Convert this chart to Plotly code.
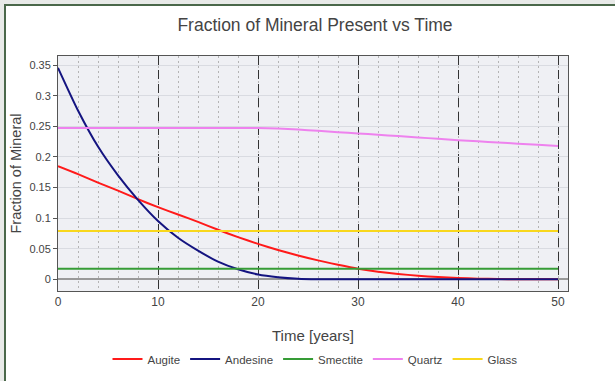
import plotly.graph_objects as go

# ---- data ----
years = [0, 2, 4, 6, 8, 10, 12, 14, 16, 18, 20, 22, 24, 26, 28, 30,
         32, 34, 36, 38, 40, 42, 44, 46, 48, 50]

augite = [0.185, 0.172, 0.158, 0.145, 0.131, 0.118, 0.106, 0.094, 0.081,
          0.069, 0.058, 0.048, 0.039, 0.031, 0.024, 0.0175, 0.0125, 0.0088,
          0.006, 0.0038, 0.0022, 0.0012, 0.0006, 0.0002, 0.0001, 0.0]

andesine = [0.3457, 0.276, 0.217, 0.170, 0.130, 0.0954, 0.068, 0.047, 0.029,
            0.0165, 0.008, 0.0035, 0.001, 0.0002, 0.0, 0.0, 0.0, 0.0, 0.0,
            0.0, 0.0, 0.0, 0.0, 0.0, 0.0, 0.0]

smectite = [0.0175] * 26

quartz = [0.2475, 0.2475, 0.2475, 0.2475, 0.2475, 0.2475, 0.2475, 0.2475,
          0.2475, 0.2475, 0.2473, 0.2465, 0.2447, 0.2427, 0.2406, 0.2385,
          0.2363, 0.2341, 0.2319, 0.2297, 0.2275, 0.2256, 0.2236, 0.2217,
          0.2198, 0.218]

glass = [0.079] * 26

series_names = ["Augite", "Andesine", "Smectite", "Quartz", "Glass"]
series_values = [augite, andesine, smectite, quartz, glass]
series_colors = ["#ff1a1a", "#141480", "#369c36", "#ee82ee", "#f8d71c"]

x_ticks = [0, 10, 20, 30, 40, 50]
y_ticks = [0, 0.05, 0.1, 0.15, 0.2, 0.25, 0.3, 0.35]

FONT = "Arial, Liberation Sans, sans-serif"

fig = go.Figure()
for name, vals, col in zip(series_names, series_values, series_colors):
    fig.add_trace(go.Scatter(x=years, y=vals, name=name, mode="lines",
                             line=dict(color=col, width=2, shape="spline",
                                       smoothing=0.6)))

L, R, T, B = 58, 47, 56, 90
W, H = 615, 381
pw, ph = W - L - R, H - T - B


def px_x(p):
    return (p - L) / pw


def px_y(p):
    return (H - B - p) / ph


fig.update_layout(
    width=W, height=H,
    margin=dict(l=L, r=R, t=T, b=B, autoexpand=False),
    paper_bgcolor="#e8eae8",
    plot_bgcolor="rgba(0,0,0,0)",
    font=dict(family=FONT, color="#444"),
    title=dict(text="Fraction of Mineral Present vs Time",
               x=315 / W, xanchor="center", y=1 - 25 / H, yanchor="middle",
               font=dict(size=17.5, color="#444", family=FONT)),
    showlegend=True,
    legend=dict(orientation="h", x=px_x(315), xanchor="center",
                y=px_y(359), yanchor="middle",
                font=dict(size=11.5, color="#444"),
                bgcolor="rgba(0,0,0,0)", itemwidth=30, tracegroupgap=0),
    shapes=[
        dict(type="rect", xref="paper", yref="paper", layer="below",
             x0=px_x(5), x1=px_x(660), y0=px_y(420), y1=px_y(5),
             fillcolor="white", line=dict(color="#4a684a", width=2)),
        dict(type="rect", xref="paper", yref="paper", layer="below",
             x0=0, x1=1, y0=0, y1=1,
             fillcolor="#eff0f4", line=dict(width=0)),
    ],
)

fig.update_xaxes(
    range=[0, 51], tickvals=x_ticks, ticks="", showgrid=True,
    gridcolor="#333", gridwidth=1, griddash="9px,5px",
    minor=dict(dtick=2, tick0=0, showgrid=True, gridcolor="#b4b4b4",
               gridwidth=1, griddash="2px,3px", ticks=""),
    zeroline=False, showline=True, mirror=True, linecolor="#555",
    linewidth=1, tickfont=dict(size=12, color="#444"),
    title=dict(text="Time [years]", font=dict(size=15, color="#444"),
               standoff=22),
)

fig.update_yaxes(
    range=[-0.019, 0.365], tickvals=y_ticks, ticks="outside", ticklen=4,
    tickcolor="#555", showgrid=True, gridcolor="#d9dbe1", gridwidth=1,
    zeroline=True, zerolinecolor="#999", zerolinewidth=2,
    showline=True, mirror=True, linecolor="#555", linewidth=1,
    tickfont=dict(size=11, color="#444"),
    title=dict(text="Fraction of Mineral", font=dict(size=14.5, color="#444"),
               standoff=4),
)

fig.write_html("out.html", config={"displayModeBar": False})
